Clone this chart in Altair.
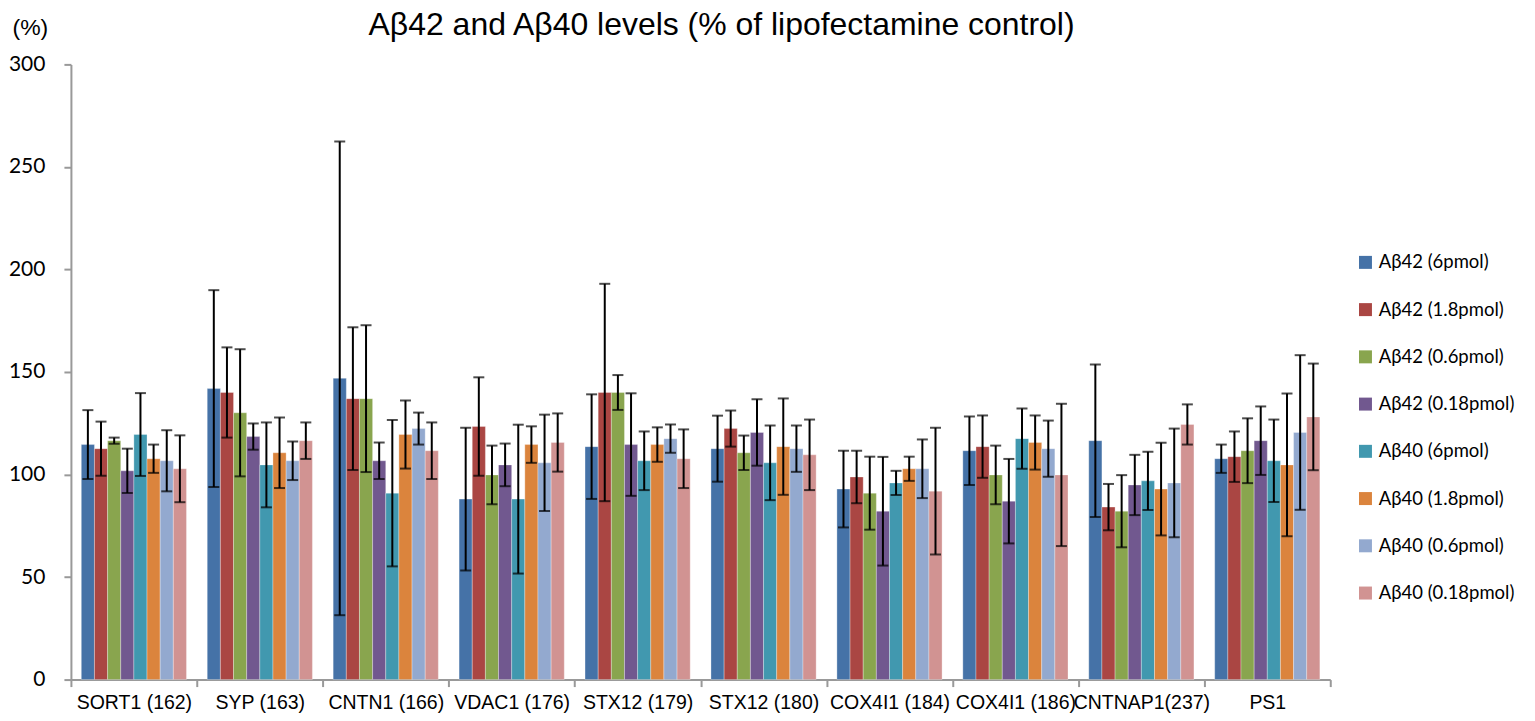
import altair as alt
import pandas as pd

categories = ["SORT1 (162)", "SYP (163)", "CNTN1 (166)", "VDAC1 (176)", "STX12 (179)",
              "STX12 (180)", "COX4I1 (184)", "COX4I1 (186)", "CNTNAP1(237)", "PS1"]

series = ["Aβ42 (6pmol)", "Aβ42 (1.8pmol)", "Aβ42 (0.6pmol)", "Aβ42 (0.18pmol)",
          "Aβ40 (6pmol)", "Aβ40 (1.8pmol)", "Aβ40 (0.6pmol)", "Aβ40 (0.18pmol)"]

colors = ["#4572A7", "#AA4643", "#89A54E", "#71588F",
          "#4198AF", "#DB843D", "#93A9CF", "#D19392"]

ab42_6 = [114.6, 141.9, 146.9, 88.0, 113.6, 112.6, 92.9, 111.6, 116.5, 107.7]
ab42_18 = [112.6, 140.0, 137.0, 123.4, 140.0, 122.4, 98.8, 113.6, 84.1, 108.7]
ab42_06 = [116.5, 130.1, 137.0, 99.8, 140.0, 110.6, 90.9, 99.8, 82.1, 111.6]
ab42_018 = [101.8, 118.5, 106.7, 104.7, 114.6, 120.5, 82.1, 87.0, 94.9, 116.5]
ab40_6 = [119.5, 104.7, 90.9, 88.0, 106.7, 105.7, 95.9, 117.5, 96.9, 106.7]
ab40_18 = [107.7, 110.6, 119.5, 114.6, 114.6, 113.6, 102.8, 115.6, 92.9, 104.7]
ab40_06 = [106.7, 106.7, 122.4, 105.7, 117.5, 112.6, 102.8, 112.6, 95.9, 120.5]
ab40_018 = [102.8, 116.5, 111.6, 115.6, 107.7, 109.6, 91.9, 99.8, 124.4, 128.1]

err42_6 = [16.8, 48.0, 115.5, 34.8, 25.5, 16.1, 18.7, 16.7, 37.2, 6.9]
err42_18 = [13.2, 22.0, 34.8, 24.0, 53.0, 8.8, 12.8, 15.2, 11.3, 12.3]
err42_06 = [1.5, 31.0, 35.8, 14.3, 8.5, 8.4, 17.8, 14.3, 17.6, 15.8]
err42_018 = [10.8, 6.4, 8.9, 10.4, 25.0, 16.2, 26.5, 20.6, 14.7, 16.7]
err40_6 = [20.2, 20.7, 35.7, 36.3, 14.3, 18.2, 5.9, 14.7, 14.2, 20.1]
err40_18 = [6.9, 17.2, 16.6, 8.9, 8.4, 23.5, 5.9, 13.2, 22.6, 34.8]
err40_06 = [14.9, 9.4, 7.8, 23.5, 6.9, 11.3, 14.3, 13.7, 26.5, 37.7]
err40_018 = [16.3, 8.9, 13.8, 14.2, 14.3, 17.2, 30.9, 34.7, 9.8, 26.0]

values = [ab42_6, ab42_18, ab42_06, ab42_018, ab40_6, ab40_18, ab40_06, ab40_018]
errors = [err42_6, err42_18, err42_06, err42_018, err40_6, err40_18, err40_06, err40_018]

rows = []
for s, vals, errs in zip(series, values, errors):
    for c, v, e in zip(categories, vals, errs):
        rows.append({"cat": c, "series": s, "value": v, "lo": v - e, "hi": v + e})
df = pd.DataFrame(rows)

ARIAL = "Liberation Sans, Arial, sans-serif"
CAL = "Lato, Carlito, Noto Sans, sans-serif"

x_enc = alt.X("cat:N", sort=categories,
              scale=alt.Scale(paddingInner=0, paddingOuter=0),
              axis=alt.Axis(title=None, labelAngle=0, labelFont=ARIAL, labelFontSize=19.5,
                            labelColor="black", labelPadding=7, tickBand="extent",
                            tickSize=7, tickWidth=2, tickColor="#999999",
                            domainColor="#999999", domainWidth=2, labelLimit=300))
xo_enc = alt.XOffset("series:N", sort=series,
                     scale=alt.Scale(paddingOuter=0.79, paddingInner=0))

base = alt.Chart(df).encode(x=x_enc, xOffset=xo_enc)

bars = base.mark_bar(stroke="white", strokeWidth=0.6, strokeOpacity=0.5).encode(
    y=alt.Y("value:Q",
            scale=alt.Scale(domain=[0, 300], nice=False, zero=True),
            axis=alt.Axis(values=[0, 50, 100, 150, 200, 250, 300], grid=False,
                          title="(%)", titleAngle=0, titleX=-59, titleY=-37,
                          titleAlign="left", titleBaseline="middle",
                          titleFont=ARIAL, titleFontSize=23, titleFontWeight="normal",
                          titleColor="black",
                          labelFont=CAL, labelFontSize=21, labelColor="black",
                          labelPadding=19, tickSize=7, tickWidth=2, tickColor="#999999",
                          domainColor="#999999", domainWidth=2)),
    color=alt.Color("series:N", sort=series,
                    scale=alt.Scale(domain=series, range=colors),
                    legend=alt.Legend(orient="none", legendX=1287, legendY=189, title=None,
                                      symbolType="square", symbolSize=169,
                                      symbolStrokeWidth=0, symbolOpacity=1,
                                      labelFont=CAL, labelFontSize=18.5, labelColor="black",
                                      rowPadding=28.3, labelOffset=4, padding=0,
                                      labelLimit=300)),
)

rules = base.mark_rule(color="black", strokeWidth=2).encode(y="lo:Q", y2="hi:Q")
cap_lo = base.mark_tick(color="black", thickness=2, size=11).encode(y="lo:Q")
cap_hi = base.mark_tick(color="black", thickness=2, size=11).encode(y="hi:Q")

chart = alt.layer(bars, rules, cap_lo, cap_hi).properties(
    width=1261, height=616,
    title=alt.Title("Aβ42 and Aβ40 levels (% of lipofectamine control)",
                    font=ARIAL, fontSize=32, fontWeight="normal", color="black",
                    anchor="middle", frame="group", dx=21, dy=30),
    padding={"left": 63, "top": 56, "right": 197, "bottom": 33},
    autosize=alt.AutoSizeParams(type="none"),
).configure_view(stroke=None)

chart.save("out.html", embed_options={"renderer": "svg", "actions": False})
